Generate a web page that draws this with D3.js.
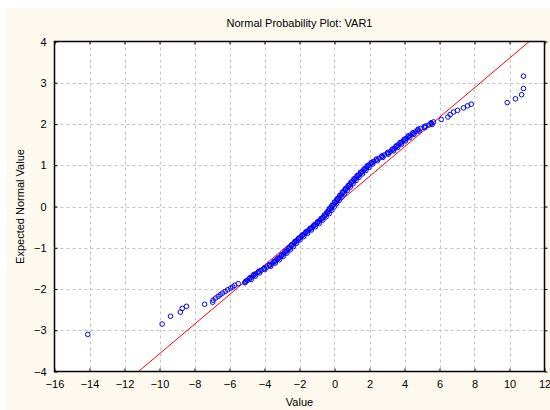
<!DOCTYPE html>
<html><head><meta charset="utf-8">
<script src="https://cdn.jsdelivr.net/npm/d3@7"></script>
<style>
html,body{margin:0;padding:0;background:#fff;}
text{font-family:"Liberation Sans",Arial,sans-serif;fill:#000;}
</style></head>
<body><svg id="c" width="550" height="410"></svg>
<script>
const title = "Normal Probability Plot: VAR1";
const xLabel = "Value";
const yLabel = "Expected Normal Value";
const xTicks = [-16,-14,-12,-10,-8,-6,-4,-2,0,2,4,6,8,10,12];
const yTicks = [-4,-3,-2,-1,0,1,2,3,4];

const obsValues = [
-14.1,-9.85,-9.37,-8.81,-8.70,-8.46,-7.42,-6.96,-6.94,-6.80,-6.65,-6.53,-6.40,-6.25,-6.10,-5.94,-5.82,-5.70,-5.50,
-5.10,-4.98,-4.85,-4.74,-4.62,-4.50,-4.36,-4.20,-4.04,-3.88,-3.72,-3.58,-3.46,-3.35,-3.24,-3.13,-3.02,-2.91,-2.82,-2.72,
-2.62,-2.54,-2.45,-2.36,-2.26,-2.16,-2.06,-1.95,-1.85,-1.74,-1.63,-1.52,-1.40,-1.29,-1.18,-1.07,-0.96,-0.86,-0.76,-0.66,
-0.57,-0.48,-0.40,-0.33,-0.26,-0.19,-0.12,-0.05,0.02,0.10,0.17,0.25,0.32,0.40,0.47,0.55,0.63,0.72,0.80,0.88,
0.96,1.05,1.13,1.22,1.31,1.40,1.50,1.60,1.70,1.80,1.89,1.98,2.10,2.24,2.38,2.54,2.70,2.86,3.02,3.18,
3.30,3.42,3.53,3.64,3.75,3.87,3.98,4.10,4.22,4.33,4.47,4.62,4.76,4.90,5.13,5.37,5.52,5.66,
6.10,6.48,6.61,6.80,7.03,7.37,7.60,7.81,9.87,10.34,10.69,10.80,10.80
];
const expNormal = [
-3.10,-2.85,-2.66,-2.56,-2.47,-2.42,-2.37,-2.32,-2.27,-2.22,-2.18,-2.14,-2.10,-2.06,-2.02,-1.98,-1.95,-1.91,-1.87,
-1.83,-1.79,-1.75,-1.71,-1.67,-1.63,-1.59,-1.55,-1.51,-1.47,-1.43,-1.39,-1.35,-1.31,-1.27,-1.23,-1.19,-1.15,-1.11,-1.07,
-1.03,-0.99,-0.95,-0.91,-0.87,-0.83,-0.79,-0.75,-0.71,-0.67,-0.63,-0.59,-0.55,-0.51,-0.47,-0.43,-0.39,-0.35,-0.31,-0.27,
-0.23,-0.19,-0.15,-0.11,-0.07,-0.03,0.01,0.05,0.09,0.13,0.17,0.21,0.25,0.29,0.33,0.37,0.41,0.45,0.49,0.53,
0.57,0.61,0.65,0.69,0.73,0.77,0.81,0.85,0.89,0.93,0.97,1.01,1.05,1.09,1.13,1.17,1.21,1.25,1.29,1.33,
1.37,1.41,1.45,1.49,1.53,1.57,1.61,1.65,1.69,1.73,1.77,1.81,1.85,1.89,1.93,1.97,2.01,2.05,
2.11,2.17,2.23,2.29,2.33,2.39,2.44,2.48,2.52,2.61,2.71,2.86,3.16
];
// the dense middle band holds further points in between
const obsValuesMid = [
-5.13,-5.06,-4.76,-4.84,-4.53,-4.61,-4.28,-4.33,-3.98,-4.01,-3.65,-3.71,-3.38,-3.46,-3.15,-3.24,-2.93,-3.02,-2.72,-2.83,
-2.53,-2.64,-2.35,-2.46,-2.17,-2.27,-1.97,-2.06,-1.76,-1.85,-1.54,-1.63,-1.32,-1.40,-1.09,-1.18,-0.87,-0.97,-0.67,-0.77,
-0.48,-0.59,-0.30,-0.43,-0.16,-0.29,-0.02,-0.15,0.12,0.00,0.27,0.15,0.42,0.30,0.57,0.45,0.73,0.61,0.90,0.78,
1.06,0.94,1.23,1.11,1.40,1.29,1.59,1.49,1.79,1.69,1.98,1.87,2.18,2.11,2.45,2.40,2.76,2.72,3.08,3.04,
3.38,3.30,3.61,3.52,3.83,3.75,4.06,3.98,4.30,4.21,4.54,4.49,4.83,4.77,5.16,5.19,5.58,5.52
];
const expNormalMid = [
-1.85,-1.81,-1.77,-1.73,-1.69,-1.65,-1.61,-1.57,-1.53,-1.49,-1.45,-1.41,-1.37,-1.33,-1.29,-1.25,-1.21,-1.17,-1.13,-1.09,
-1.05,-1.01,-0.97,-0.93,-0.89,-0.85,-0.81,-0.77,-0.73,-0.69,-0.65,-0.61,-0.57,-0.53,-0.49,-0.45,-0.41,-0.37,-0.33,-0.29,
-0.25,-0.21,-0.17,-0.13,-0.09,-0.05,-0.01,0.03,0.07,0.11,0.15,0.19,0.23,0.27,0.31,0.35,0.39,0.43,0.47,0.51,
0.55,0.59,0.63,0.67,0.71,0.75,0.79,0.83,0.87,0.91,0.95,0.99,1.03,1.07,1.11,1.15,1.19,1.23,1.27,1.31,
1.35,1.39,1.43,1.47,1.51,1.55,1.59,1.63,1.67,1.71,1.75,1.79,1.83,1.87,1.91,1.95,1.99,2.03
];
// reference line end points
const refLineX = [-11.2, 11.13];
const refLineY = [-4, 4];

const svg = d3.select("#c");
const W = 550, H = 410;
const L = 54.5, R = 544.5, T = 41.5, B = 371.5;

svg.append("rect").attr("x",6).attr("y",8).attr("width",W-6).attr("height",H-8).attr("fill","#fdf9ee");

const x = d3.scaleLinear().domain([-16,12]).range([L,R]);
const y = d3.scaleLinear().domain([-4,4]).range([B,T]);

svg.append("rect").attr("x",L).attr("y",T).attr("width",R-L).attr("height",B-T).attr("fill","#fff");

// grid
const grid = svg.append("g").attr("stroke","#c4c4c4").attr("stroke-width",1).attr("stroke-dasharray","3,3");
grid.selectAll(".gx").data(xTicks.slice(1,-1)).join("line")
  .attr("x1",d=>Math.round(x(d))+0.5).attr("x2",d=>Math.round(x(d))+0.5).attr("y1",T).attr("y2",B);
grid.selectAll(".gy").data(yTicks.slice(1,-1)).join("line")
  .attr("y1",d=>Math.round(y(d))+0.5).attr("y2",d=>Math.round(y(d))+0.5).attr("x1",L).attr("x2",R);

// axes
const xAxis = d3.axisBottom(x).tickValues(xTicks).tickSize(-3).tickPadding(9).tickFormat(d3.format("d"));
const gx = svg.append("g").attr("transform",`translate(0,${B})`).call(xAxis);
gx.select(".domain").remove();
gx.selectAll("text").attr("font-size",11).attr("font-family","Liberation Sans, Arial, sans-serif");
const xTop = d3.axisTop(x).tickValues(xTicks).tickSize(-3).tickFormat("");
const gxt = svg.append("g").attr("transform",`translate(0,${T})`).call(xTop);
gxt.select(".domain").remove();

const yAxis = d3.axisLeft(y).tickValues(yTicks).tickSize(-3).tickPadding(8).tickFormat(d3.format("d"));
const gy = svg.append("g").attr("transform",`translate(${L},0)`).call(yAxis);
gy.select(".domain").remove();
gy.selectAll("text").attr("font-size",11).attr("font-family","Liberation Sans, Arial, sans-serif");
const yRight = d3.axisRight(y).tickValues(yTicks).tickSize(3).tickFormat("");
const gyr = svg.append("g").attr("transform",`translate(${R},0)`).call(yRight);
gyr.select(".domain").remove();

// clip
svg.append("clipPath").attr("id","clip").append("rect").attr("x",L).attr("y",T).attr("width",R-L).attr("height",B-T);

// reference line
svg.append("line").attr("clip-path","url(#clip)")
  .attr("x1",x(refLineX[0])).attr("y1",y(refLineY[0]))
  .attr("x2",x(refLineX[1])).attr("y2",y(refLineY[1]))
  .attr("stroke","#ff0000").attr("stroke-width",1);

// points
const pts = obsValues.map((v,i)=>({v, e:expNormal[i]}))
  .concat(obsValuesMid.map((v,i)=>({v, e:expNormalMid[i]})));
svg.append("g").selectAll("circle").data(pts).join("circle")
  .attr("cx",d=>x(d.v)).attr("cy",d=>y(d.e)).attr("r",2.3)
  .attr("fill","none").attr("stroke","#0000ff").attr("stroke-width",1);

// frame
svg.append("rect").attr("x",L).attr("y",T).attr("width",R-L).attr("height",B-T)
  .attr("fill","none").attr("stroke","#000").attr("stroke-width",1.5);

// titles
svg.append("text").attr("x",(L+R)/2).attr("y",27).attr("text-anchor","middle").attr("font-size",11).text(title);
svg.append("text").attr("x",(L+R)/2).attr("y",406).attr("text-anchor","middle").attr("font-size",11).text(xLabel);
svg.append("text").attr("transform",`translate(24,${(T+B)/2}) rotate(-90)`).attr("text-anchor","middle").attr("font-size",11).text(yLabel);
</script></body></html>
